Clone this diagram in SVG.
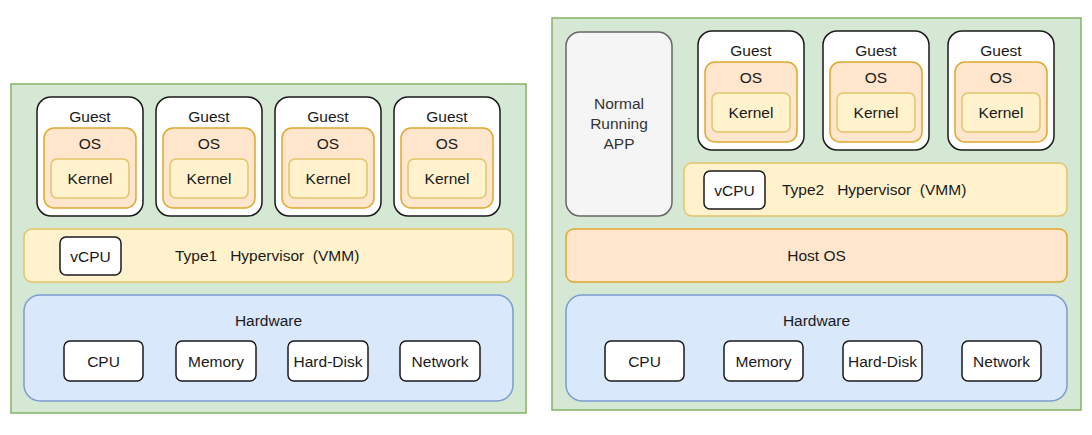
<svg xmlns="http://www.w3.org/2000/svg" width="1092" height="435" viewBox="0 0 1092 435">
<style>
text{font-family:"Liberation Sans",Arial,sans-serif;font-size:15.5px;fill:#1a1a1a;dominant-baseline:central;text-anchor:middle;white-space:pre}
.panel{fill:#d5e8d4;stroke:#82b366;stroke-width:1.5}
.guest{fill:#fff;stroke:#1a1a1a;stroke-width:1.5}
.os{fill:#ffe6cc;stroke:#e0a82e;stroke-width:1.5}
.kernel{fill:#fff2cc;stroke:#e3c46a;stroke-width:1.5}
.hyp{fill:#fff2cc;stroke:#e3c46a;stroke-width:1.5}
.host{fill:#ffe6cc;stroke:#e0a82e;stroke-width:1.5}
.hw{fill:#dae8fc;stroke:#7b9bd0;stroke-width:1.5}
.dev{fill:#fff;stroke:#1a1a1a;stroke-width:1.5}
.app{fill:#f5f5f5;stroke:#666;stroke-width:1.5}
.left{text-anchor:start}
</style>
<defs>
<g id="guestTpl">
<rect class="guest" x="0" y="0" width="106" height="119" rx="14"/>
<text x="53" y="19">Guest</text>
<rect class="os" x="7" y="31" width="92" height="80" rx="10"/>
<text x="53" y="46">OS</text>
<rect class="kernel" x="14" y="62" width="78" height="39" rx="6"/>
<text x="53" y="81">Kernel</text>
</g>
</defs>
<g id="panel-type1">
<rect class="panel" x="11" y="84" width="515" height="329"/>
</g>
<g id="guest-l1"><use href="#guestTpl" x="37" y="97"/></g>
<g id="guest-l2"><use href="#guestTpl" x="156" y="97"/></g>
<g id="guest-l3"><use href="#guestTpl" x="275" y="97"/></g>
<g id="guest-l4"><use href="#guestTpl" x="394" y="97"/></g>
<g id="hyp1">
<rect class="hyp" x="24" y="229" width="489" height="53" rx="8"/>
<rect class="dev" x="60" y="237" width="61" height="38" rx="6"/>
<text x="90.5" y="256">vCPU</text>
<text class="left" x="175" y="255">Type1   Hypervisor  (VMM)</text>
</g>
<g id="hw1">
<rect class="hw" x="24" y="295" width="489" height="106" rx="16"/>
<text x="268.5" y="320">Hardware</text>
<rect class="dev" x="64" y="341" width="79" height="40" rx="6"/>
<text x="103.5" y="361">CPU</text>
<rect class="dev" x="176" y="341" width="80" height="40" rx="6"/>
<text x="216" y="361">Memory</text>
<rect class="dev" x="288" y="341" width="80" height="40" rx="6"/>
<text x="328" y="361">Hard-Disk</text>
<rect class="dev" x="400" y="341" width="80" height="40" rx="6"/>
<text x="440" y="361">Network</text>
</g>
<g id="panel-type2">
<rect class="panel" x="552" y="18" width="529" height="392"/>
</g>
<g id="app">
<rect class="app" x="566" y="32" width="106" height="184" rx="14"/>
<text x="619" y="103" style="fill:#333">Normal</text>
<text x="619" y="123" style="fill:#333">Running</text>
<text x="619" y="143" style="fill:#333">APP</text>
</g>
<g id="guest-r1"><use href="#guestTpl" x="698" y="31"/></g>
<g id="guest-r2"><use href="#guestTpl" x="823" y="31"/></g>
<g id="guest-r3"><use href="#guestTpl" x="948" y="31"/></g>
<g id="hyp2">
<rect class="hyp" x="684" y="163" width="383" height="53" rx="8"/>
<rect class="dev" x="704" y="171" width="61" height="38" rx="6"/>
<text x="734.5" y="190">vCPU</text>
<text class="left" x="782" y="189">Type2   Hypervisor  (VMM)</text>
</g>
<g id="hostos">
<rect class="host" x="566" y="229" width="501" height="53" rx="8"/>
<text x="816.5" y="255">Host OS</text>
</g>
<g id="hw2">
<rect class="hw" x="566" y="295" width="501" height="106" rx="16"/>
<text x="816.5" y="320">Hardware</text>
<rect class="dev" x="605" y="341" width="79" height="40" rx="6"/>
<text x="644.5" y="361">CPU</text>
<rect class="dev" x="724" y="341" width="79" height="40" rx="6"/>
<text x="763.5" y="361">Memory</text>
<rect class="dev" x="843" y="341" width="79" height="40" rx="6"/>
<text x="882.5" y="361">Hard-Disk</text>
<rect class="dev" x="962" y="341" width="79" height="40" rx="6"/>
<text x="1001.5" y="361">Network</text>
</g>
<g id="connectors"/>
</svg>
